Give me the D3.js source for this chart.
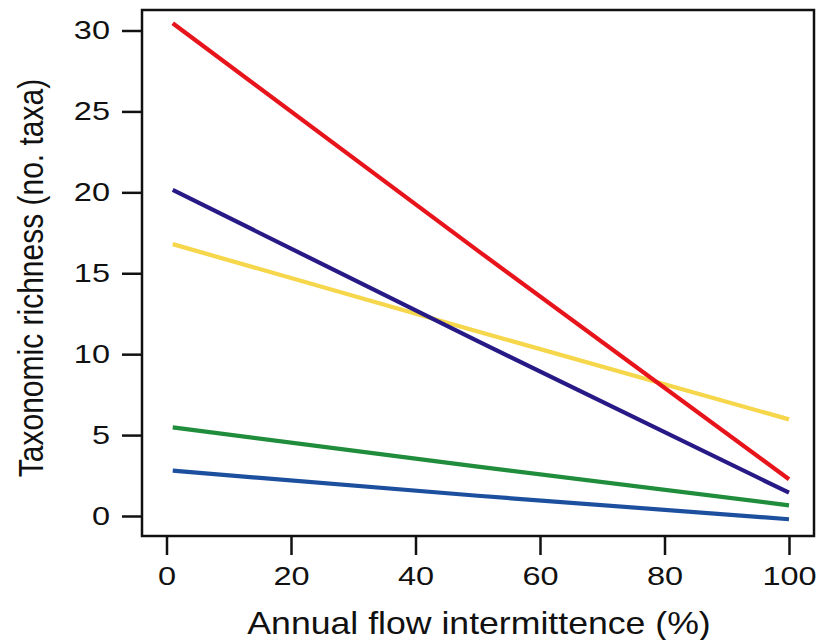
<!DOCTYPE html>
<html>
<head>
<meta charset="utf-8">
<script src="https://cdn.jsdelivr.net/npm/d3@7"></script>
<style>
  body { margin: 0; background: #fff; }
  text { font-family: "Liberation Sans", Arial, sans-serif; fill: #111; }
</style>
</head>
<body>
<svg class="line-chart"></svg>
<script>
// values (x = % intermittence, y = no. taxa)
const xPts = [1, 50, 100];
const redVals = [30.45, 16.4, 2.27];
const purpleVals = [20.15, 10.8, 1.44];
const yellowVals = [16.8, 11.4, 5.97];
const greenVals = [5.48, 3.05, 0.66];
const blueVals = [2.8, 1.25, -0.2];

const seriesNames = ['red', 'purple', 'yellow', 'green', 'blue'];
const seriesColors = ['#e8141c', '#271a86', '#f6d64a', '#1f8d3b', '#1d4f9f'];
const seriesVals = [redVals, purpleVals, yellowVals, greenVals, blueVals];

const xTicks = [0, 20, 40, 60, 80, 100];
const yTicks = [0, 5, 10, 15, 20, 25, 30];

const width = 831;
const height = 640;
const box = { left: 142, right: 814, top: 10, bottom: 536 };
const stretch = 1.15; // text in the picture is a bit wide
const tickStretch = 1.25;

const svg = d3.select('.line-chart')
  .attr('width', width)
  .attr('height', height);

const x = d3.scaleLinear().domain([0, 100]).range([166.5, 789]);
const y = d3.scaleLinear().domain([0, 30]).range([516, 30.5]);

const line = d3.line()
  .x((d) => x(d.x))
  .y((d) => y(d.y));

const data = seriesNames.map((name, i) => ({
  name,
  color: seriesColors[i],
  points: xPts.map((xv, j) => ({ x: xv, y: seriesVals[i][j] })),
}));

// draw in reverse so red ends on top
svg.append('g')
  .selectAll('path')
  .data(data.slice().reverse())
  .join('path')
  .attr('d', (d) => line(d.points))
  .attr('fill', 'none')
  .attr('stroke', (d) => d.color)
  .attr('stroke-width', 4.2)
  .attr('stroke-linecap', 'butt');

svg.append('rect')
  .attr('x', box.left)
  .attr('y', box.top)
  .attr('width', box.right - box.left)
  .attr('height', box.bottom - box.top)
  .attr('fill', 'none')
  .attr('stroke', '#111')
  .attr('stroke-width', 2.5);

const xAxis = (g) => g
  .attr('transform', `translate(0,${box.bottom})`)
  .call(d3.axisBottom(x).tickValues(xTicks).tickSize(19).tickPadding(12))
  .call((g) => g.select('.domain').remove())
  .call((g) => g.selectAll('.tick line').attr('stroke', '#111').attr('stroke-width', 2.5))
  .call((g) => g.selectAll('.tick text')
    .attr('font-size', 26)
    .attr('font-family', '"Liberation Sans", Arial, sans-serif')
    .attr('fill', '#111')
    .attr('transform', `scale(${tickStretch},1)`));

const yAxis = (g) => g
  .attr('transform', `translate(${box.left},0)`)
  .call(d3.axisLeft(y).tickValues(yTicks).tickSize(20).tickPadding(12))
  .call((g) => g.select('.domain').remove())
  .call((g) => g.selectAll('.tick line').attr('stroke', '#111').attr('stroke-width', 2.5))
  .call((g) => g.selectAll('.tick text')
    .attr('font-size', 26)
    .attr('font-family', '"Liberation Sans", Arial, sans-serif')
    .attr('fill', '#111')
    .attr('x', 0)
    .attr('transform', `translate(-32,0) scale(${tickStretch},1)`));

svg.append('g').call(xAxis);
svg.append('g').call(yAxis);

svg.append('text')
  .attr('transform', `translate(479,634) scale(${stretch},1)`)
  .attr('text-anchor', 'middle')
  .attr('font-size', 31)
  .text('Annual flow intermittence (%)');

svg.append('text')
  .attr('transform', `translate(43,278) scale(${stretch},1) rotate(-90)`)
  .attr('text-anchor', 'middle')
  .attr('font-size', 30)
  .text('Taxonomic richness (no. taxa)');
</script>
</body>
</html>
